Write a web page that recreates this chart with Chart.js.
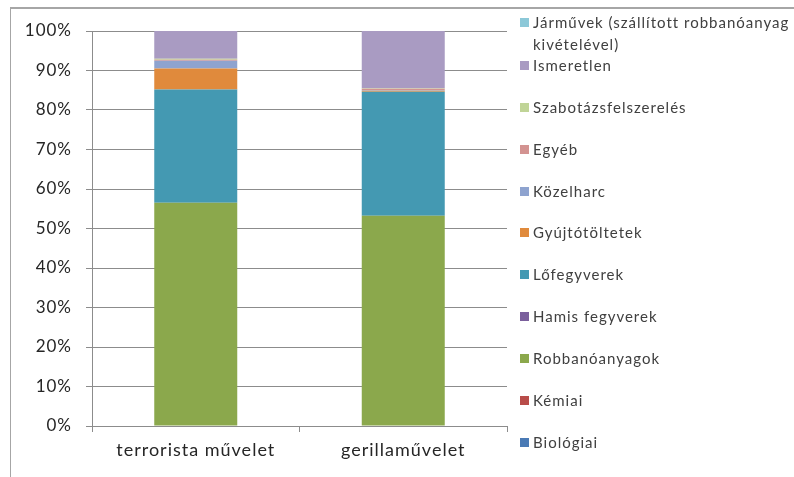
<!DOCTYPE html>
<html>
<head>
<meta charset="utf-8">
<script src="https://cdn.jsdelivr.net/npm/chart.js@4.4.1/dist/chart.umd.min.js"></script>
<style>
  html,body{margin:0;padding:0;background:#fff;}
  #wrap{position:absolute;left:0;top:0;width:794px;height:477px;overflow:hidden;background:#fff;}
  #frame{position:absolute;left:10px;top:7px;width:800px;height:480px;border-left:1px solid #a6a6a6;border-top:2px solid #a6a6a6;}
  #cv{position:absolute;left:0;top:0;}
  #legend{position:absolute;left:0;top:0;width:794px;height:477px;pointer-events:none;font-family:Lato,"Open Sans",sans-serif;font-size:15px;color:#404040;letter-spacing:1px;}
  .li{position:absolute;left:520px;width:272px;}
  .sw{position:absolute;left:0;width:9px;height:9px;}
  .tx{position:absolute;left:13px;width:258px;line-height:22px;}
</style>
</head>
<body>
<div id="wrap">
  <div id="frame"></div>
  <canvas id="cv" width="794" height="477"></canvas>
  <div id="legend"></div>
</div>
<script>
const categories = ["terrorista művelet", "gerillaművelet"];
const seriesNames = ["Biológiai","Kémiai","Robbanóanyagok","Hamis fegyverek","Lőfegyverek","Gyújtótöltetek","Közelharc","Egyéb","Szabotázsfelszerelés","Ismeretlen","Járművek (szállított robbanóanyag kivételével)"];
const biologiai = [0, 0];
const kemiai = [0.1, 0];
const robbanoanyagok = [56.4, 53.2];
const hamisFegyverek = [0, 0];
const lofegyverek = [28.7, 31.4];
const gyujtotoltetek = [5.3, 0.3];
const kozelharc = [2.0, 0.1];
const egyeb = [0.2, 0.4];
const szabotazs = [0.3, 0.1];
const ismeretlen = [7.0, 14.5];
const jarmuvek = [0, 0];
const yTicks = [0,10,20,30,40,50,60,70,80,90,100];
const colors = ["#4a7ab5","#b84c49","#8ba84c","#7a5f9c","#4499b2","#e08a3c","#8ea3cf","#d39391","#c0d497","#a99bc2","#8cc8d8"];

const seriesValues = [biologiai,kemiai,robbanoanyagok,hamisFegyverek,lofegyverek,gyujtotoltetek,kozelharc,egyeb,szabotazs,ismeretlen,jarmuvek];

const datasets = seriesNames.map((n,i)=>({
  label:n, data:seriesValues[i], backgroundColor:colors[i], borderWidth:0,
  barPercentage:0.4, categoryPercentage:1.0, stack:'s'
}));

Chart.defaults.font.family = "Lato, 'Open Sans', sans-serif";
Chart.defaults.color = "#404040";

const spacing = {
  id:'spacing',
  beforeUpdate(c){ c.ctx.letterSpacing = '1px'; },
  beforeLayout(c){ c.ctx.letterSpacing = '1px'; },
  beforeDraw(c){ c.ctx.letterSpacing = '1px'; }
};

new Chart(document.getElementById('cv'), {
  type:'bar',
  data:{labels:categories, datasets:datasets},
  plugins:[spacing],
  options:{
    responsive:false, animation:false,
    layout:{padding:{left:0,right:287,top:31,bottom:0}},
    plugins:{legend:{display:false}, tooltip:{enabled:false}},
    scales:{
      x:{
        stacked:true,
        grid:{display:true, offset:true, drawOnChartArea:false, drawTicks:true, tickLength:6, color:'#8c8c8c'},
        border:{display:true, color:'#8c8c8c', width:1},
        ticks:{font:{size:18}, color:'#262626', padding:7},
        afterFit:(s)=>{s.height = 51;}
      },
      y:{
        stacked:true, min:0, max:100,
        afterBuildTicks:(s)=>{s.ticks = yTicks.map(v=>({value:v}));},
        grid:{color:'#8c8c8c', tickLength:6, drawTicks:true},
        border:{display:true, color:'#8c8c8c', width:1},
        ticks:{font:{size:17}, color:'#262626', padding:14, callback:(v)=>v+'%'},
        afterFit:(s)=>{s.width = 92;}
      }
    }
  }
});

// legend (reverse order, as in the reference)
const lg = document.getElementById('legend');
const tops = [11,54,96,138,180,221,263,305,347,389,431];
seriesNames.slice().reverse().forEach((n,k)=>{
  const i = seriesNames.length-1-k;
  const d = document.createElement('div');
  d.className='li'; d.style.top = tops[k]+'px';
  const sw = document.createElement('div'); sw.className='sw'; sw.style.background=colors[i]; sw.style.top='7px';
  const tx = document.createElement('div'); tx.className='tx'; tx.textContent=n;
  d.appendChild(sw); d.appendChild(tx); lg.appendChild(d);
});
</script>
</body>
</html>
